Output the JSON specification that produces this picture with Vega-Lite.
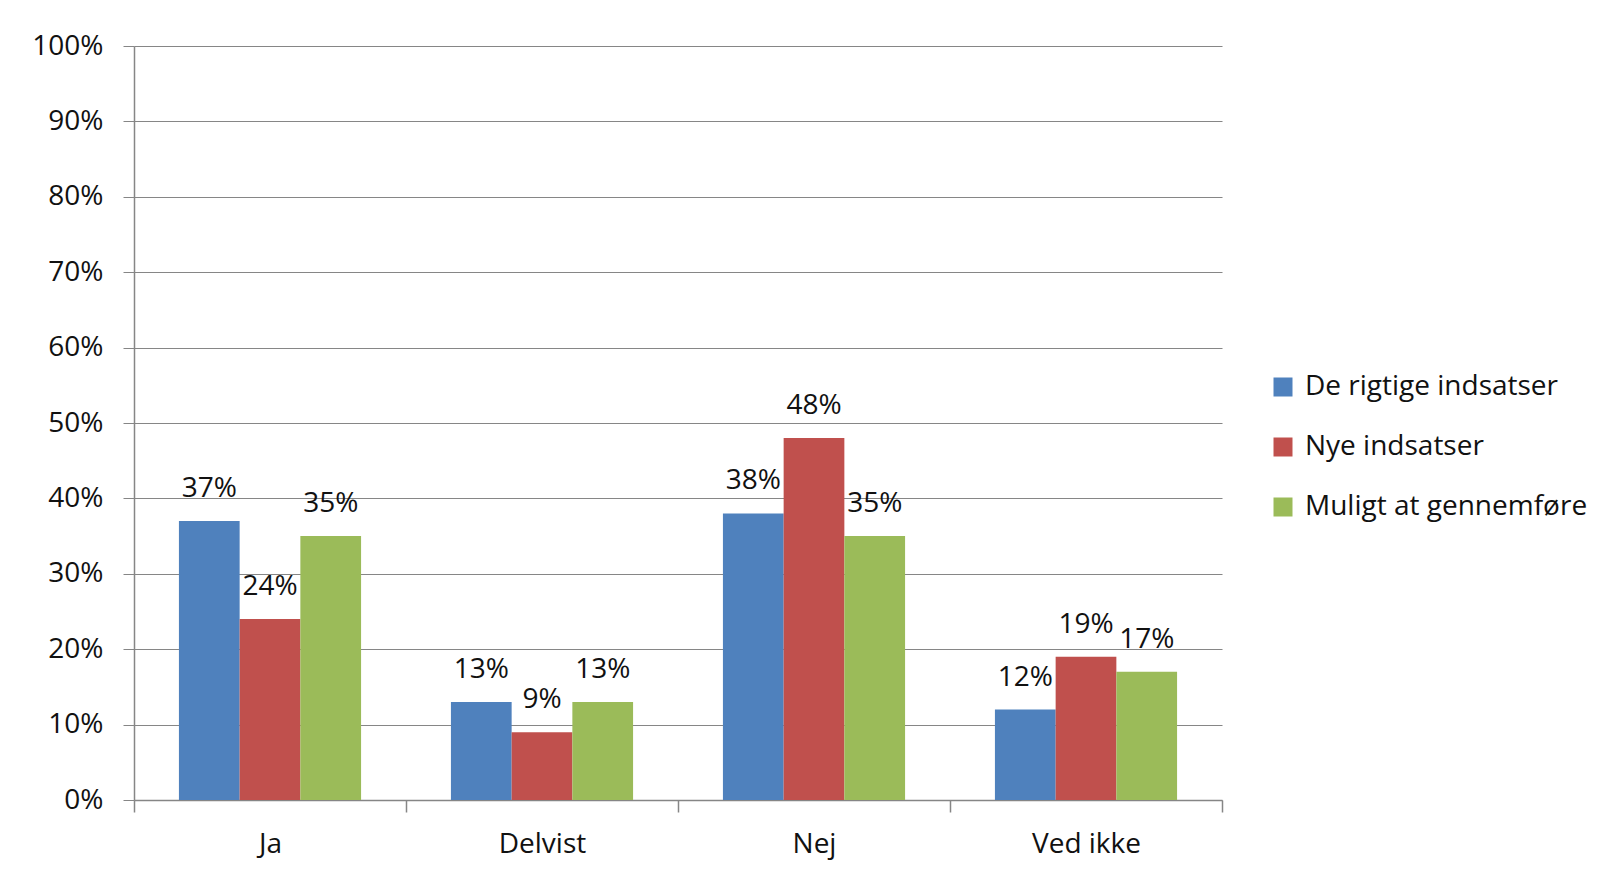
{
  "$schema": "https://vega.github.io/schema/vega-lite/v6.json",
  "autosize": {"type": "none"},
  "width": 1088,
  "height": 754,
  "padding": {"left": 134, "top": 46, "right": 402, "bottom": 79},
  "background": "white",
  "config": {
    "view": {"stroke": null},
    "font": "Open Sans",
    "axis": {"labelFont": "Open Sans", "labelColor": "#111", "domainColor": "#868686", "tickColor": "#868686", "gridColor": "#868686", "titleFont": "Open Sans"},
    "legend": {"labelFont": "Open Sans"}
  },
  "data": {
    "values": [
      {"svar": "Ja", "serie": "De rigtige indsatser", "andel": 0.37},
      {"svar": "Ja", "serie": "Nye indsatser", "andel": 0.24},
      {"svar": "Ja", "serie": "Muligt at gennemføre", "andel": 0.35},
      {"svar": "Delvist", "serie": "De rigtige indsatser", "andel": 0.13},
      {"svar": "Delvist", "serie": "Nye indsatser", "andel": 0.09},
      {"svar": "Delvist", "serie": "Muligt at gennemføre", "andel": 0.13},
      {"svar": "Nej", "serie": "De rigtige indsatser", "andel": 0.38},
      {"svar": "Nej", "serie": "Nye indsatser", "andel": 0.48},
      {"svar": "Nej", "serie": "Muligt at gennemføre", "andel": 0.35},
      {"svar": "Ved ikke", "serie": "De rigtige indsatser", "andel": 0.12},
      {"svar": "Ved ikke", "serie": "Nye indsatser", "andel": 0.19},
      {"svar": "Ved ikke", "serie": "Muligt at gennemføre", "andel": 0.17}
    ]
  },
  "encoding": {
    "x": {
      "field": "svar", "type": "nominal", "sort": ["Ja", "Delvist", "Nej", "Ved ikke"],
      "scale": {"paddingInner": 0, "paddingOuter": 0},
      "axis": {"title": null, "labelAngle": 0, "labelFontSize": 28, "tickBand": "extent", "tickSize": 12, "labelPadding": 18, "domainWidth": 1.5, "tickWidth": 1.5}
    },
    "xOffset": {
      "field": "serie", "type": "nominal", "sort": ["De rigtige indsatser", "Nye indsatser", "Muligt at gennemføre"],
      "scale": {"paddingInner": 0, "paddingOuter": 0.74}
    },
    "y": {
      "field": "andel", "type": "quantitative",
      "scale": {"domain": [0, 1], "nice": false},
      "axis": {"title": null, "format": ".0%", "values": [0, 0.1, 0.2, 0.3, 0.4, 0.5, 0.6, 0.7, 0.8, 0.9, 1], "labelFontSize": 28, "tickSize": 11, "labelPadding": 20, "grid": true, "domainWidth": 1.5, "gridWidth": 1.2}
    }
  },
  "layer": [
    {
      "mark": {"type": "bar"},
      "encoding": {
        "color": {
          "field": "serie", "type": "nominal",
          "sort": ["De rigtige indsatser", "Nye indsatser", "Muligt at gennemføre"],
          "scale": {"domain": ["De rigtige indsatser", "Nye indsatser", "Muligt at gennemføre"], "range": ["#4F81BD", "#C0504D", "#9BBB59"]},
          "legend": {
            "title": null, "orient": "none", "legendX": 1135, "legendY": 327,
            "symbolType": "square", "symbolSize": 361, "symbolStrokeWidth": 0,
            "labelFontSize": 28, "labelColor": "#111", "labelOffset": 8, "rowPadding": 32, "labelLimit": 400
          }
        }
      }
    },
    {
      "mark": {"type": "text", "baseline": "alphabetic", "dy": -24, "fontSize": 28, "color": "#111", "font": "Open Sans"},
      "encoding": {
        "text": {"field": "andel", "type": "quantitative", "format": ".0%"}
      }
    }
  ]
}
